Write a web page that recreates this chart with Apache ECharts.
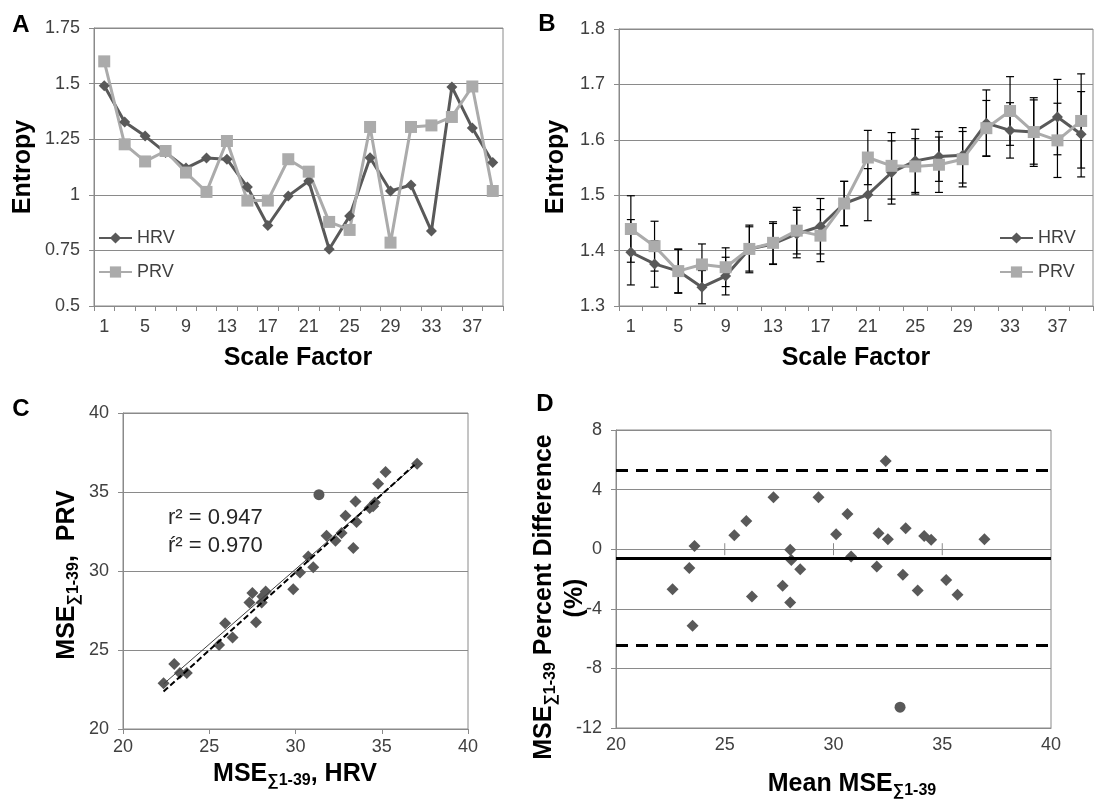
<!DOCTYPE html>
<html>
<head>
<meta charset="utf-8">
<script src="https://cdn.jsdelivr.net/npm/echarts@6/dist/echarts.min.js"></script>
<style>
  html, body { margin: 0; padding: 0; background: #fff; }
  #chart { width: 1104px; height: 804px; }
</style>
</head>
<body>
<div id="chart"></div>
<script>
// ---- Panel A / B: multiscale entropy by scale factor ----
const scaleFactors = ['1','3','5','7','9','11','13','15','17','19','21','23','25','27','29','31','33','35','37','39'];

// Panel A: single subject
const hrvEntropyA = [1.49, 1.327, 1.264, 1.19, 1.12, 1.165, 1.16, 1.035, 0.862, 0.995, 1.062, 0.755, 0.905, 1.167, 1.017, 1.044, 0.837, 1.485, 1.30, 1.145];
const prvEntropyA = [1.60, 1.227, 1.15, 1.197, 1.10, 1.013, 1.242, 0.974, 0.974, 1.16, 1.104, 0.878, 0.842, 1.305, 0.785, 1.305, 1.312, 1.35, 1.487, 1.017];

// Panel B: group mean with error bars (+/-)
const hrvEntropyB = [1.397, 1.376, 1.363, 1.334, 1.354, 1.403, 1.412, 1.430, 1.444, 1.485, 1.501, 1.541, 1.562, 1.570, 1.572, 1.630, 1.617, 1.614, 1.641, 1.610];
const hrvErrorB   = [0.059, 0.042, 0.039, 0.030, 0.034, 0.040, 0.037, 0.043, 0.050, 0.040, 0.047, 0.057, 0.057, 0.045, 0.050, 0.060, 0.050, 0.062, 0.068, 0.077];
const prvEntropyB = [1.439, 1.408, 1.363, 1.375, 1.370, 1.403, 1.414, 1.436, 1.427, 1.485, 1.568, 1.553, 1.552, 1.555, 1.565, 1.621, 1.652, 1.614, 1.599, 1.634];
const prvErrorB   = [0.060, 0.045, 0.040, 0.037, 0.035, 0.043, 0.038, 0.042, 0.047, 0.040, 0.049, 0.060, 0.050, 0.050, 0.050, 0.050, 0.062, 0.058, 0.067, 0.085];

// ---- Panel C: summed MSE, HRV vs PRV ----
const mseHrv = [22.35, 22.97, 23.3, 23.7, 25.57, 25.92, 26.35, 27.33, 27.5, 27.71, 28.04, 28.08, 28.27, 29.87, 30.26, 30.74, 31.03, 31.8, 32.32, 32.67, 32.9, 33.35, 33.48, 33.54, 34.3, 34.5, 34.6, 34.79, 35.22, 37.05];
const msePrv = [22.89, 24.12, 23.55, 23.55, 25.32, 26.69, 25.79, 28.0, 28.6, 26.76, 28.0, 28.38, 28.7, 28.85, 29.9, 30.92, 30.24, 32.23, 31.91, 32.4, 33.5, 31.45, 34.4, 33.1, 33.98, 34.1, 34.34, 35.52, 36.26, 36.79];
const outlierC = [31.36, 34.83];
const fitAll = [[22.35, 22.85], [37.05, 36.8]];
const fitWithoutOutlier = [[22.35, 22.37], [36.9, 36.72]];
const r2Labels = ['r\u00B2 = 0.947', '\u0155\u00B2 = 0.970'];

// ---- Panel D: Bland-Altman ----
const meanMse = [22.6, 23.37, 23.61, 23.52, 25.44, 25.99, 26.25, 27.24, 27.66, 28.01, 28.06, 28.01, 28.47, 29.31, 30.12, 30.64, 30.81, 32.07, 31.99, 32.4, 32.5, 33.19, 33.32, 33.87, 34.17, 34.49, 35.18, 35.7, 36.94];
const pctDiff = [-2.68, -1.27, 0.22, -5.14, 0.94, 1.9, -3.17, 3.49, -2.46, -0.04, -0.72, -3.58, -1.34, 3.49, 1.01, 2.37, -0.49, 1.07, -1.16, 5.92, 0.67, -1.72, 1.41, -2.77, 0.89, 0.63, -2.06, -3.06, 0.67];
const outlierD = [33.06, -10.6];
const biasMean = -0.6;
const limitUpper = 5.27;
const limitLower = -6.46;
const zeroLineTicks = [25, 30, 35];

// ---- styling ----
const FONT = 'Liberation Sans, Arial, Helvetica, sans-serif';
const AXIS_GRAY = '#8a8a8a';
const LABEL_COLOR = '#404040';
const HRV_COLOR = '#595959';
const PRV_COLOR = '#ababab';

function pairs(xs, ys) { return xs.map((x, i) => [x, ys[i]]); }
function errRows(means, errs) { return means.map((m, i) => [i, m - errs[i], m + errs[i]]); }

function labelStyle(margin) {
  return { fontSize: 18, color: LABEL_COLOR, fontFamily: FONT, margin: margin };
}
const axisLineStyle = { show: true, onZero: false, lineStyle: { color: AXIS_GRAY, width: 1 } };
const tickStyle = (len) => ({ show: true, length: len, lineStyle: { color: AXIS_GRAY, width: 1 } });
const gridLine = { show: true, lineStyle: { color: AXIS_GRAY, width: 1 } };

function categoryAxis(gridIndex) {
  return {
    type: 'category', gridIndex, data: scaleFactors, boundaryGap: true,
    axisLine: axisLineStyle,
    axisTick: Object.assign(tickStyle(5), { interval: 0, alignWithLabel: false }),
    axisLabel: Object.assign(labelStyle(12), { interval: 1 }),
    splitLine: { show: false }
  };
}

function errorBarRender(params, api) {
  const x = api.value(0);
  const lo = api.coord([x, api.value(1)]);
  const hi = api.coord([x, api.value(2)]);
  const w = 4;
  const st = { stroke: '#000', lineWidth: 1.2 };
  return {
    type: 'group',
    children: [
      { type: 'line', shape: { x1: hi[0], y1: hi[1], x2: lo[0], y2: lo[1] }, style: st },
      { type: 'line', shape: { x1: hi[0] - w, y1: hi[1], x2: hi[0] + w, y2: hi[1] }, style: st },
      { type: 'line', shape: { x1: lo[0] - w, y1: lo[1], x2: lo[0] + w, y2: lo[1] }, style: st }
    ]
  };
}

// tick marks crossing the zero line of the difference plot
function crossTickRender(params, api) {
  const c = api.coord([api.value(0), api.value(1)]);
  return { type: 'line', shape: { x1: c[0], y1: c[1] - 6, x2: c[0], y2: c[1] + 6 },
           style: { stroke: AXIS_GRAY, lineWidth: 1 } };
}

// text helpers for titles with a subscript
const titleRich = {
  m: { fontSize: 25, fontWeight: 'bold', fontFamily: FONT, fill: '#000', lineHeight: 30 },
  s: { fontSize: 16, fontWeight: 'bold', fontFamily: FONT, fill: '#000', lineHeight: 14, verticalAlign: 'bottom' }
};
function titleText(x, y, text, rotated) {
  return {
    type: 'text', x, y, rotation: rotated ? Math.PI / 2 : 0, silent: true,
    style: { text, rich: titleRich, align: 'center', verticalAlign: 'middle',
             fontSize: 25, fontWeight: 'bold', fontFamily: FONT, fill: '#000' }
  };
}
function panelLetter(x, y, t) {
  return { type: 'text', x, y, silent: true,
    style: { text: t, fontSize: 24, fontWeight: 'bold', fontFamily: FONT, fill: '#000', align: 'center', verticalAlign: 'middle' } };
}

const chart = echarts.init(document.getElementById('chart'), null, { renderer: 'canvas' });

const option = {
  animation: false,
  backgroundColor: '#fff',
  textStyle: { fontFamily: FONT },
  grid: [
    { left: 94,  top: 28,  width: 409, height: 278, show: true, borderColor: AXIS_GRAY, borderWidth: 1, outerBoundsMode: 'none' },
    { left: 619, top: 29,  width: 474, height: 277, show: true, borderColor: AXIS_GRAY, borderWidth: 1, outerBoundsMode: 'none' },
    { left: 123, top: 413, width: 345, height: 316, show: true, borderColor: AXIS_GRAY, borderWidth: 1, outerBoundsMode: 'none' },
    { left: 616, top: 430, width: 435, height: 298, show: true, borderColor: AXIS_GRAY, borderWidth: 1, outerBoundsMode: 'none' }
  ],
  legend: [
    { data: ['HRV', 'PRV'], orient: 'vertical', left: 98, top: 229, padding: 0,
      itemWidth: 33, itemHeight: 14, itemGap: 16, selectedMode: false,
      textStyle: { fontSize: 18, color: LABEL_COLOR, fontFamily: FONT } },
    { data: ['HRV', 'PRV'], orient: 'vertical', left: 999, top: 229, padding: 0,
      itemWidth: 33, itemHeight: 14, itemGap: 16, selectedMode: false,
      textStyle: { fontSize: 18, color: LABEL_COLOR, fontFamily: FONT } }
  ],
  xAxis: [
    categoryAxis(0),
    categoryAxis(1),
    { type: 'value', gridIndex: 2, min: 20, max: 40, interval: 5,
      axisLine: axisLineStyle, axisTick: tickStyle(5), axisLabel: labelStyle(9), splitLine: { show: false } },
    { type: 'value', gridIndex: 3, min: 20, max: 40, interval: 5, position: 'bottom',
      axisLine: axisLineStyle, axisTick: { show: false }, axisLabel: labelStyle(8), splitLine: { show: false } }
  ],
  yAxis: [
    { type: 'value', gridIndex: 0, min: 0.5, max: 1.75, interval: 0.25,
      axisLine: axisLineStyle, axisTick: tickStyle(5), splitLine: gridLine,
      axisLabel: Object.assign(labelStyle(14), { formatter: v => String(Number(v.toFixed(2))) }) },
    { type: 'value', gridIndex: 1, min: 1.3, max: 1.8, interval: 0.1,
      axisLine: axisLineStyle, axisTick: tickStyle(5), splitLine: gridLine,
      axisLabel: Object.assign(labelStyle(14), { formatter: v => v.toFixed(1) }) },
    { type: 'value', gridIndex: 2, min: 20, max: 40, interval: 5,
      axisLine: axisLineStyle, axisTick: tickStyle(5), splitLine: gridLine, axisLabel: labelStyle(14) },
    { type: 'value', gridIndex: 3, min: -12, max: 8, interval: 4,
      axisLine: axisLineStyle, axisTick: tickStyle(5), splitLine: gridLine, axisLabel: labelStyle(14) }
  ],
  series: [
    // Panel A
    { name: 'HRV', type: 'line', xAxisIndex: 0, yAxisIndex: 0, data: hrvEntropyA, silent: true,
      symbol: 'diamond', symbolSize: 11, showAllSymbol: true,
      itemStyle: { color: HRV_COLOR }, lineStyle: { color: HRV_COLOR, width: 3 } },
    { name: 'PRV', type: 'line', xAxisIndex: 0, yAxisIndex: 0, data: prvEntropyA, silent: true,
      symbol: 'rect', symbolSize: 12, showAllSymbol: true,
      itemStyle: { color: PRV_COLOR }, lineStyle: { color: PRV_COLOR, width: 3 } },
    // Panel B
    { name: 'HRV', type: 'line', xAxisIndex: 1, yAxisIndex: 1, data: hrvEntropyB, silent: true,
      symbol: 'diamond', symbolSize: 11, showAllSymbol: true,
      itemStyle: { color: HRV_COLOR }, lineStyle: { color: HRV_COLOR, width: 3 } },
    { name: 'HRV error', type: 'custom', xAxisIndex: 1, yAxisIndex: 1, silent: true,
      data: errRows(hrvEntropyB, hrvErrorB), renderItem: errorBarRender, encode: { x: 0, y: [1, 2] } },
    { name: 'PRV', type: 'line', xAxisIndex: 1, yAxisIndex: 1, data: prvEntropyB, silent: true,
      symbol: 'rect', symbolSize: 12, showAllSymbol: true,
      itemStyle: { color: PRV_COLOR }, lineStyle: { color: PRV_COLOR, width: 3 } },
    { name: 'PRV error', type: 'custom', xAxisIndex: 1, yAxisIndex: 1, silent: true,
      data: errRows(prvEntropyB, prvErrorB), renderItem: errorBarRender, encode: { x: 0, y: [1, 2] } },
    // Panel C
    { name: 'subjects C', type: 'scatter', xAxisIndex: 2, yAxisIndex: 2, silent: true,
      data: pairs(mseHrv, msePrv), symbol: 'diamond', symbolSize: 12, itemStyle: { color: HRV_COLOR, opacity: 1 } },
    { name: 'outlier C', type: 'scatter', xAxisIndex: 2, yAxisIndex: 2, silent: true,
      data: [outlierC], symbol: 'circle', symbolSize: 11, itemStyle: { color: HRV_COLOR, opacity: 1 } },
    { name: 'fit all', type: 'line', xAxisIndex: 2, yAxisIndex: 2, silent: true,
      data: fitAll, symbol: 'none', lineStyle: { color: '#404040', width: 1 } },
    { name: 'fit no outlier', type: 'line', xAxisIndex: 2, yAxisIndex: 2, silent: true,
      data: fitWithoutOutlier, symbol: 'none', lineStyle: { color: '#000', width: 2, type: [6, 3] } },
    // Panel D
    { name: 'zero ticks', type: 'custom', xAxisIndex: 3, yAxisIndex: 3, silent: true,
      data: zeroLineTicks.map(x => [x, 0]), renderItem: crossTickRender, encode: { x: 0, y: 1 } },
    { name: 'subjects D', type: 'scatter', xAxisIndex: 3, yAxisIndex: 3, silent: true,
      data: pairs(meanMse, pctDiff), symbol: 'diamond', symbolSize: 12, itemStyle: { color: HRV_COLOR, opacity: 1 },
      markLine: {
        silent: true, symbol: 'none', label: { show: false }, animation: false,
        data: [
          { yAxis: biasMean, lineStyle: { color: '#000', width: 3, type: 'solid' } },
          { yAxis: limitUpper, lineStyle: { color: '#000', width: 3, type: [12, 8] } },
          { yAxis: limitLower, lineStyle: { color: '#000', width: 3, type: [12, 8] } }
        ]
      } },
    { name: 'outlier D', type: 'scatter', xAxisIndex: 3, yAxisIndex: 3, silent: true,
      data: [outlierD], symbol: 'circle', symbolSize: 11, itemStyle: { color: HRV_COLOR, opacity: 1 } }
  ],
  graphic: [
    panelLetter(21, 25, 'A'),
    panelLetter(547, 24, 'B'),
    panelLetter(21, 409, 'C'),
    panelLetter(545, 404, 'D'),
    titleText(23, 167, '{m|Entropy}', true),
    titleText(298, 358, '{m|Scale Factor}', false),
    titleText(556, 167, '{m|Entropy}', true),
    titleText(856, 358, '{m|Scale Factor}', false),
    titleText(67, 575, '{m|MSE}{s|\u22111-39}{m|,  PRV}', true),
    titleText(295, 774, '{m|MSE}{s|\u22111-39}{m|, HRV}', false),
    titleText(544, 597, '{m|MSE}{s|\u22111-39}{m| Percent Difference}', true),
    titleText(575, 598, '{m|(%)}', true),
    titleText(852, 784, '{m|Mean MSE}{s|\u22111-39}', false),
    { type: 'text', x: 168, y: 518, silent: true,
      style: { text: r2Labels[0], fontSize: 22, fontFamily: FONT, fill: '#262626', align: 'left', verticalAlign: 'middle' } },
    { type: 'text', x: 168, y: 546, silent: true,
      style: { text: r2Labels[1], fontSize: 22, fontFamily: FONT, fill: '#262626', align: 'left', verticalAlign: 'middle' } }
  ]
};

chart.setOption(option);
</script>
</body>
</html>
